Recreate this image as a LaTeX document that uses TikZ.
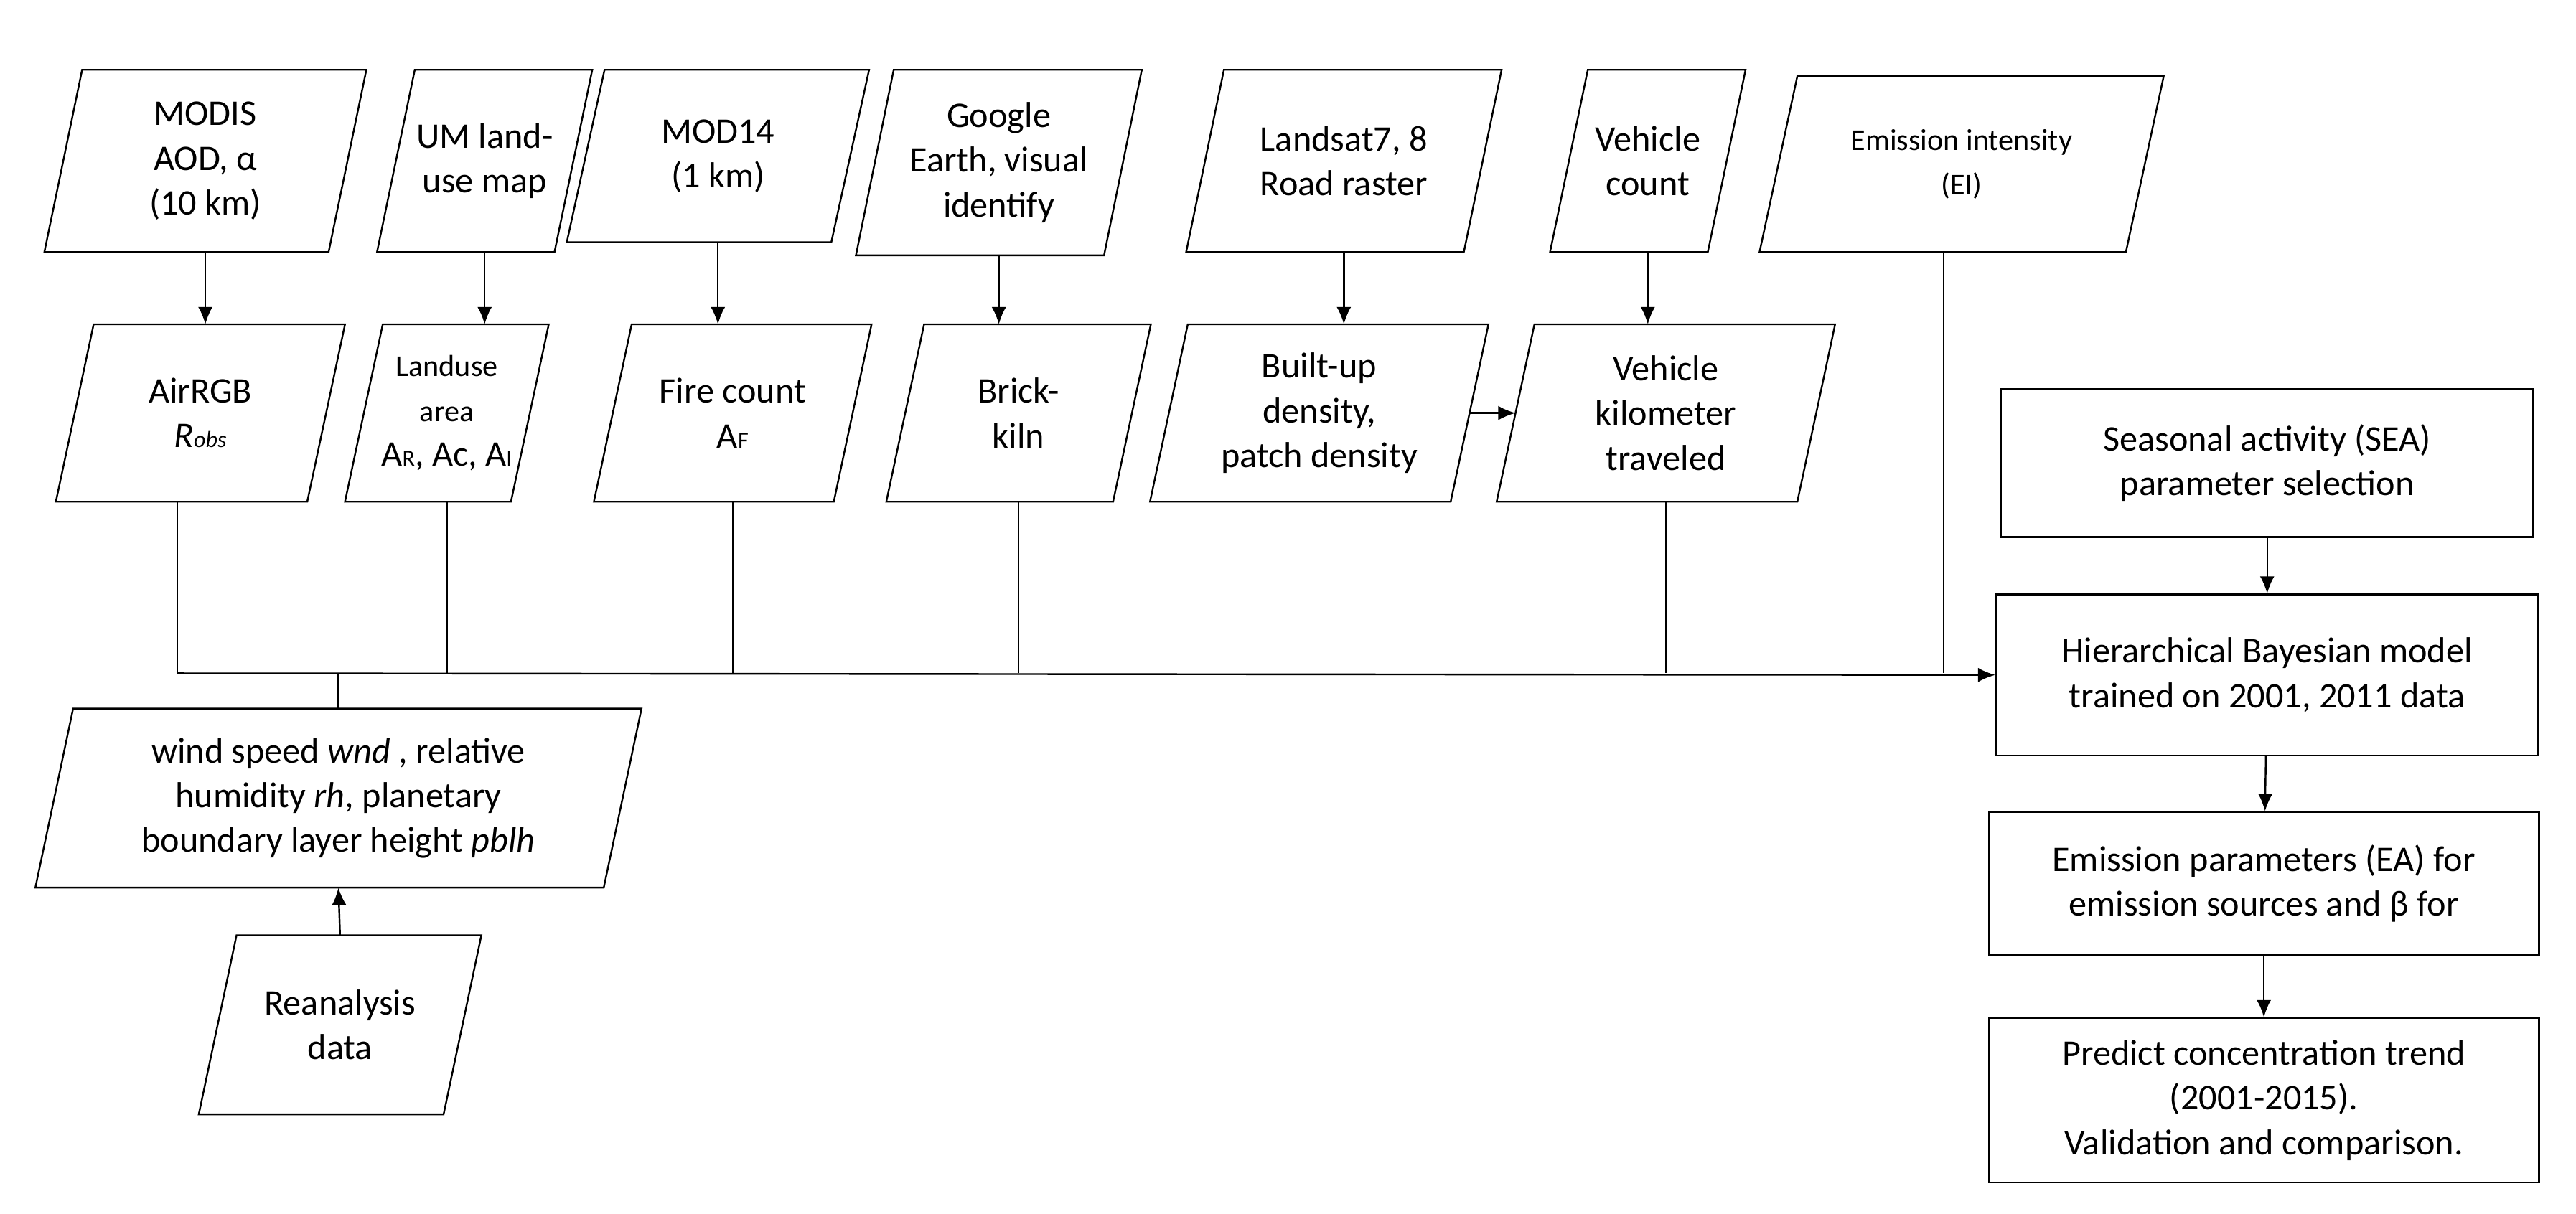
\documentclass[tikz,border=0pt]{standalone}
\usepackage{fontspec}
\setmainfont{Carlito}
\usetikzlibrary{arrows.meta}
\begin{document}
\begin{tikzpicture}[x=0.02cm,y=-0.02cm,line width=0.6pt,
  box/.style={align=center,inner sep=0pt,font=\fontsize{12.5}{15.5}\selectfont},
  rbox/.style={box,draw},
  arr/.style={-{Latex[length=6pt,width=5pt]}}]
\def\pl#1{\draw ([xshift=0.23cm]#1.north west) -- ([xshift=0.23cm]#1.north east) -- ([xshift=-0.23cm]#1.south east) -- ([xshift=-0.23cm]#1.south west) -- cycle;}
\useasboundingbox (0,0) rectangle (1568,739);
% top row
\node[box,minimum width=3.44cm,minimum height=2.2cm] (modis) at (125,98) {MODIS\\AOD, α\\(10 km)};
\node[box,minimum width=2.14cm,minimum height=2.2cm] (um) at (295,98) {UM land-\\use map};
\node[box,minimum width=3.2cm,minimum height=2.08cm] (mod) at (437,95) {MOD14\\(1 km)};
\node[box,minimum width=3.0cm,minimum height=2.24cm] (goo) at (608,99) {Google\\Earth, visual\\identify};
\node[box,minimum width=3.36cm,minimum height=2.2cm] (land) at (818,98) {Landsat7, 8\\Road raster};
\node[box,minimum width=1.9cm,minimum height=2.2cm] (vc) at (1003,98) {Vehicle\\count};
\node[box,minimum width=4.44cm,minimum height=2.12cm,font=\fontsize{10.5}{15.5}\selectfont] (ei) at (1194,100) {Emission intensity\\(EI)};
% second row
\node[box,minimum width=3.04cm,minimum height=2.14cm] (air) at (122,251.5) {AirRGB\\\textit{R}{\footnotesize\textit{obs}}};
\node[box,minimum width=2.0cm,minimum height=2.14cm] (lu) at (272,251.5) {{\fontsize{10.5}{13}\selectfont Landuse}\\{\fontsize{10.5}{13}\selectfont area}\\A{\footnotesize R}, Ac, A{\footnotesize I}};
\node[box,minimum width=2.9cm,minimum height=2.14cm] (fire) at (446,251.5) {Fire count\\A{\footnotesize F}};
\node[box,minimum width=2.74cm,minimum height=2.14cm] (brick) at (620,251.5) {Brick-\\kiln};
\node[box,minimum width=3.64cm,minimum height=2.14cm] (built) at (803,251.5) {Built-up\\density,\\patch density};
\node[box,minimum width=3.64cm,minimum height=2.14cm] (vkm) at (1014,251.5) {Vehicle\\kilometer\\traveled};
% left lower
\node[box,minimum width=6.9cm,minimum height=2.16cm] (wind) at (206,486) {wind speed \textit{wnd} , relative\\humidity \textit{rh}, planetary\\boundary layer height \textit{pblh}};
\node[box,minimum width=2.96cm,minimum height=2.16cm] (rea) at (207,624) {Reanalysis\\data};
\foreach \n in {modis,um,mod,goo,land,vc,ei,air,lu,fire,brick,built,vkm,wind,rea} {\pl{\n}}
% right boxes
\node[rbox,minimum width=6.48cm,minimum height=1.8cm] (sea) at (1380,282) {Seasonal activity (SEA)\\parameter selection};
\node[rbox,minimum width=6.6cm,minimum height=1.96cm] (hbm) at (1380,411) {Hierarchical Bayesian model\\trained on 2001, 2011 data};
\node[rbox,minimum width=6.7cm,minimum height=1.74cm] (ea) at (1378,538) {Emission parameters (EA) for\\emission sources and β for};
\node[rbox,minimum width=6.7cm,minimum height=2.0cm] (pred) at (1378,670) {Predict concentration trend\\(2001-2015).\\Validation and comparison.};
% arrows top->second
\draw[arr] (modis.south) -- (modis.south |- air.north);
\draw[arr] (um.south) -- (um.south |- lu.north);
\draw[arr] (mod.south) -- (mod.south |- fire.north);
\draw[arr] (goo.south) -- (goo.south |- brick.north);
\draw[arr] (land.south) -- (land.south |- built.north);
\draw[arr] (vc.south) -- (vc.south |- vkm.north);
\draw[arr] (built.east) -- (vkm.west);
% bus
\coordinate (bus) at (0,410);
\draw ([xshift=-0.28cm]air.south) -- ([xshift=-0.28cm]air.south |- bus);
\draw[arr] ([xshift=-0.28cm]air.south |- bus) -- (hbm.west);
\foreach \n in {lu,fire,brick,vkm} {\draw (\n.south) -- (\n.south |- bus);}
\draw ([xshift=-0.22cm]ei.south) -- ([xshift=-0.22cm]ei.south |- bus);
\draw (wind.north) -- (wind.north |- bus);
\draw[arr] (rea.north) -- (wind.south);
% right column
\draw[arr] (sea) -- (hbm);
\draw[arr] (hbm) -- (ea);
\draw[arr] (ea) -- (pred);
\end{tikzpicture}
\end{document}
